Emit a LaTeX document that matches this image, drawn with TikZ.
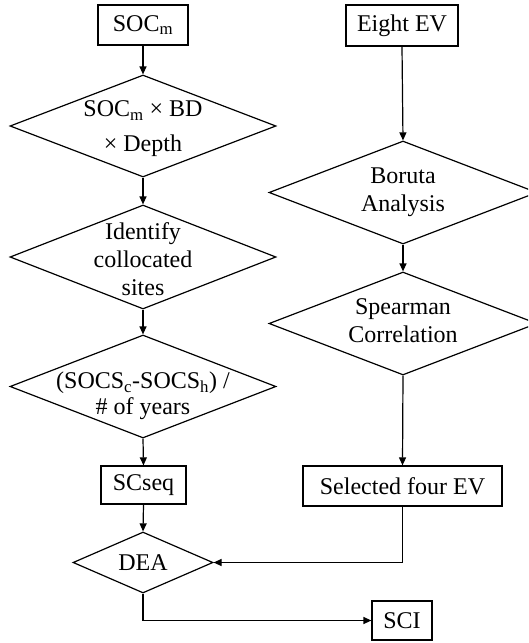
\documentclass[tikz,border=0pt]{standalone}
\usepackage{fontspec}
\setmainfont{Liberation Serif}
\usetikzlibrary{arrows.meta,shapes.geometric}
\begin{document}
\begin{tikzpicture}[x=1pt,y=-1pt,
  every node/.style={font=\fontsize{24}{28}\selectfont},
  flowbox/.style={draw,line width=1.2pt,rectangle,inner sep=0pt},
  decide/.style={draw,line width=1.2pt,diamond,inner sep=0pt},
  lbl/.style={align=center,inner sep=0pt},
  conn/.style={line width=1.2pt,-{Triangle[length=8pt,width=7pt]}},
  plain/.style={line width=1.2pt}]
\clip (0,0) rectangle (528,643);
% left column
\node[flowbox,minimum width=90pt,minimum height=40pt] (socm) at (143,25) {SOC\textsubscript{m}};
\node[decide,minimum width=266pt,minimum height=102pt] (d1) at (143,126) {};
\node[lbl,font=\fontsize{24}{35}\selectfont] (t1) at (143,128.5) {SOC\textsubscript{m} × BD\\× Depth};
\node[decide,minimum width=266pt,minimum height=104pt] (d2) at (143,257) {};
\node[lbl] (t2) at (143,259) {Identify\\collocated\\sites};
\node[decide,minimum width=266pt,minimum height=103pt] (d3) at (143,386.5) {};
\node[lbl,font=\fontsize{24}{26}\selectfont] (t3) at (143,396) {(SOCS\textsubscript{c}-SOCS\textsubscript{h}) /\\\# of years};
\node[flowbox,minimum width=85pt,minimum height=38pt] (scseq) at (143.5,485) {SCseq};
\node[decide,minimum width=140pt,minimum height=61pt] (dea) at (143,562.5) {};
\node[lbl] (tdea) at (143,562.5) {DEA};
\node[flowbox,minimum width=60pt,minimum height=39pt] (sci) at (402,620.5) {SCI};
% right column
\node[flowbox,minimum width=112pt,minimum height=41pt] (eight) at (402,25.5) {Eight EV};
\node[decide,minimum width=268pt,minimum height=103pt] (bor) at (403,192.5) {};
\node[lbl] (tbor) at (403,192) {Boruta\\Analysis};
\node[decide,minimum width=268pt,minimum height=103pt] (spe) at (403,323.5) {};
\node[lbl] (tspe) at (403,321) {Spearman\\Correlation};
\node[flowbox,minimum width=199pt,minimum height=40pt] (sel) at (402.5,486) {Selected four EV};
\coordinate (selturn) at (sel.south |- dea.east);
\coordinate (deaturn) at (dea.south |- sci.west);
% connectors
\draw[conn] (socm) -- (d1.north);
\draw[conn] (d1.south) -- (d2.north);
\draw[conn] (d2.south) -- (d3.north);
\draw[conn] (d3.south) -- (scseq.north);
\draw[conn] (scseq.south) -- (dea.north);
\draw[conn] (eight.south) -- (bor.north);
\draw[conn] (bor.south) -- (spe.north);
\draw[conn] (spe.south) -- (sel.north);
\draw[conn] (sel.south) -- (selturn) -- (dea.east);
\draw[conn] (dea.south) -- (deaturn) -- (sci.west);
\end{tikzpicture}
\end{document}
